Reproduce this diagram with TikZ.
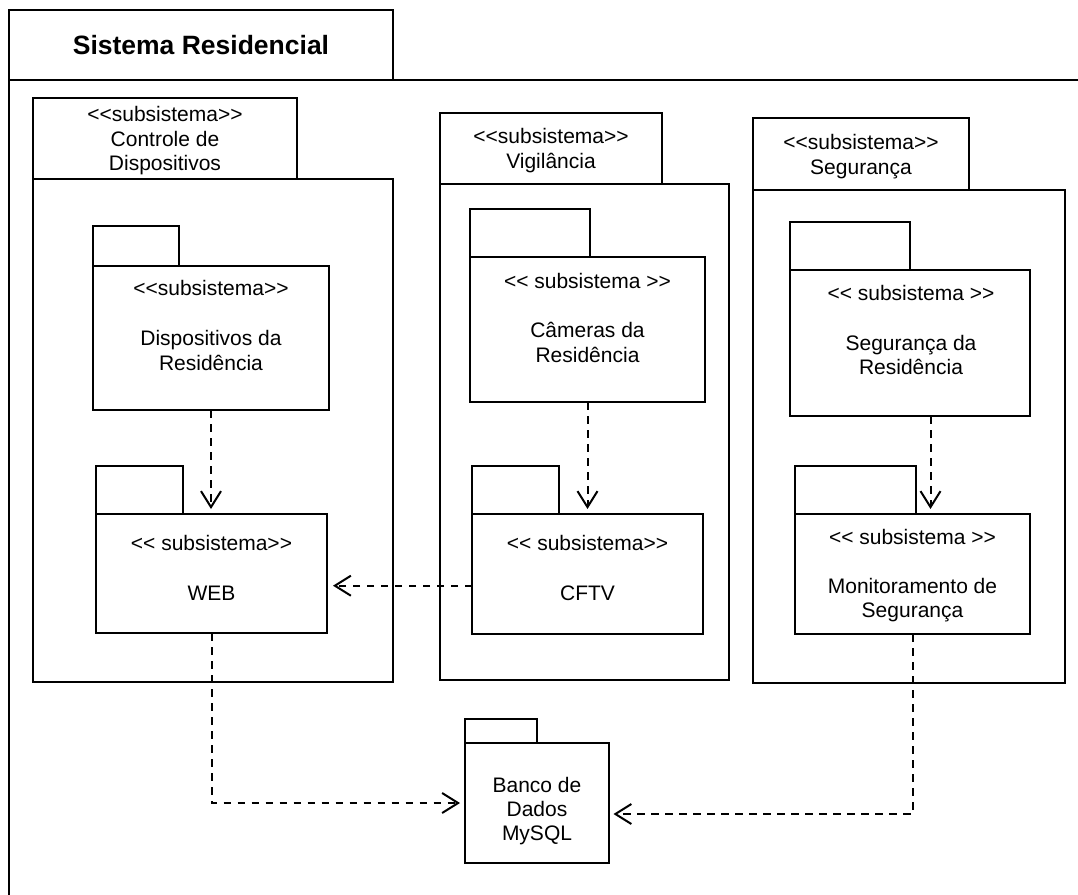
\documentclass[tikz,border=0pt]{standalone}
\usepackage{fontspec}
\newfontfamily\umlfont{Liberation Sans}
\usetikzlibrary{arrows.meta,fit}
% stereotype brackets, kept apart so no font mapping joins them
\newcommand\stopen{<\kern0pt<}
\newcommand\stclose{>\kern0pt>}

\tikzset{
  bigpkg/.style={draw=black, line width=2.5pt, inner sep=0pt, outer sep=0pt},
  smallpkg/.style={draw=black, line width=2pt, inner sep=0pt, outer sep=0pt},
  txt/.style={font=\umlfont\fontsize{21}{24.5}\selectfont, inner sep=0pt, anchor=base},
  titletxt/.style={font=\umlfont\bfseries\fontsize{26.5}{30}\selectfont, inner sep=0pt, anchor=base},
  dep/.style={draw=black, line width=2pt, dash pattern=on 7.5pt off 6.5pt,
              -{Straight Barb[length=16pt,width=20pt]}},
}

\begin{document}
\begin{tikzpicture}[x=1pt, y=-1pt]
\useasboundingbox (0,0) rectangle (1078,894);
\clip (0,0) rectangle (1078,894);

% system frame
\node[bigpkg, fit={(9,80) (1110,930)}] (frame) {};
\node[bigpkg, fill=white, fit={(9,10) (393,80)}] (frametab) {};
\node[titletxt] (title) at (201,54) {Sistema Residencial};

% subsystem: Controle de Dispositivos
\node[bigpkg, fit={(33,179) (393,682)}] (ctrl) {};
\node[bigpkg, fit={(33,98) (297,179)}] (ctrltab) {};
\node[txt] (ctrls) at (165,121) {\stopen subsistema\stclose};
\node[txt] (ctrln1) at (165,146) {Controle de};
\node[txt] (ctrln2) at (165,170) {Dispositivos};

% subsystem: Vigilância
\node[bigpkg, fit={(440,184) (729,680)}] (vig) {};
\node[bigpkg, fit={(440,113) (662,184)}] (vigtab) {};
\node[txt] (vigs) at (551,143) {\stopen subsistema\stclose};
\node[txt] (vign) at (551,168) {Vigilância};

% subsystem: Segurança
\node[bigpkg, fit={(753,190) (1065,683)}] (seg) {};
\node[bigpkg, fit={(753,118) (969,190)}] (segtab) {};
\node[txt] (segs) at (861,149) {\stopen subsistema\stclose};
\node[txt] (segn) at (861,174) {Segurança};

% inner packages
\node[smallpkg, fit={(93,266) (329,410)}] (disp) {};
\node[smallpkg, fit={(93,226) (179,266)}] (disptab) {};
\node[txt] (disps) at (211,295) {\stopen subsistema\stclose};
\node[txt] (dispn1) at (211,345) {Dispositivos da};
\node[txt] (dispn2) at (211,370) {Residência};

\node[smallpkg, fit={(96,514) (327,633)}] (web) {};
\node[smallpkg, fit={(96,466) (183,514)}] (webtab) {};
\node[txt] (webs) at (211.5,550) {\stopen{} subsistema\stclose};
\node[txt] (webn) at (211.5,600) {WEB};

\node[smallpkg, fit={(470,257) (705,402)}] (cam) {};
\node[smallpkg, fit={(470,209) (590,257)}] (camtab) {};
\node[txt] (cams) at (587.5,288) {\stopen{} subsistema \stclose};
\node[txt] (camn1) at (587.5,337) {Câmeras da};
\node[txt] (camn2) at (587.5,362) {Residência};

\node[smallpkg, fit={(472,514) (703,634)}] (cftv) {};
\node[smallpkg, fit={(472,466) (559,514)}] (cftvtab) {};
\node[txt] (cftvs) at (587.5,550) {\stopen{} subsistema\stclose};
\node[txt] (cftvn) at (587.5,600) {CFTV};

\node[smallpkg, fit={(790,270) (1030,416)}] (segres) {};
\node[smallpkg, fit={(790,222) (910,270)}] (segrestab) {};
\node[txt] (segress) at (911,300) {\stopen{} subsistema \stclose};
\node[txt] (segresn1) at (911,350) {Segurança da};
\node[txt] (segresn2) at (911,374) {Residência};

\node[smallpkg, fit={(795,514) (1030,634)}] (monit) {};
\node[smallpkg, fit={(795,466) (916,514)}] (monittab) {};
\node[txt] (monits) at (912.5,544) {\stopen{} subsistema \stclose};
\node[txt] (monitn1) at (912.5,593) {Monitoramento de};
\node[txt] (monitn2) at (912.5,617) {Segurança};

\node[smallpkg, fit={(465,743) (609,863)}] (banco) {};
\node[smallpkg, fit={(465,719) (537,743)}] (bancotab) {};
\node[txt] (banco1) at (537,792) {Banco de};
\node[txt] (banco2) at (537,816) {Dados};
\node[txt] (banco3) at (537,840) {MySQL};

% dependencies
\draw[dep, shorten >=5pt] (disp.south) -- (disp.south |- web.north);
\draw[dep, shorten >=5pt] (cam.south) -- (cam.south |- cftv.north);
\draw[dep, shorten >=5pt] ([xshift=20.5pt]segres.south) -- ([xshift=20.5pt]segres.south |- monit.north);
\draw[dep, shorten >=6pt] ([yshift=-11.7pt]cftv.west) -- ([yshift=-11.7pt]cftv.west -| web.east);
\draw[dep, shorten >=5pt] (web.south) |- (banco.west);
\draw[dep, shorten >=4.5pt] (monit.south) |- ([yshift=-11pt]banco.east);
\end{tikzpicture}
\end{document}
